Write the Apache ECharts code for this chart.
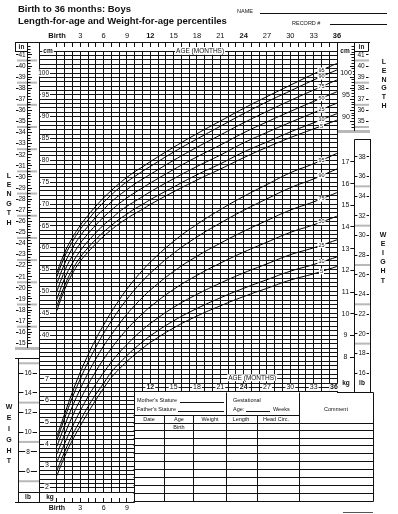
<!DOCTYPE html>
<html>
<head>
<meta charset="utf-8">
<script src="https://cdn.jsdelivr.net/npm/echarts@6/dist/echarts.min.js"></script>
<style>
  html, body { margin: 0; padding: 0; background: #fff; }
  #chart { width: 398px; height: 514px; }
</style>
</head>
<body>
<div id="chart"></div>
<script>
// age in months
const ages = [0, 1, 2, 3, 4, 5, 6, 7, 8, 9, 10, 11, 12, 15, 18, 21, 24, 27, 30, 33, 36]

// length-for-age (cm)
const lenP5  = [45.6, 50.5, 54.1, 56.9, 59.0, 60.9, 62.6, 64.1, 65.5, 66.7, 67.8, 68.8, 69.9, 72.8, 75.5, 78.0, 80.6, 83.0, 85.2, 87.2, 89.2]
const lenP10 = [46.6, 51.4, 55.0, 57.8, 60.0, 61.9, 63.6, 65.1, 66.5, 67.7, 68.9, 69.9, 71.0, 73.9, 76.7, 79.2, 81.9, 84.2, 86.5, 88.6, 90.7]
const lenP25 = [48.2, 53.0, 56.5, 59.3, 61.5, 63.4, 65.2, 66.7, 68.2, 69.5, 70.6, 71.7, 72.8, 75.8, 78.6, 81.2, 84.0, 86.4, 88.7, 90.9, 93.1]
const lenP50 = [50.0, 54.7, 58.2, 61.0, 63.2, 65.2, 67.0, 68.6, 70.1, 71.4, 72.6, 73.7, 74.8, 77.9, 80.8, 83.5, 86.3, 88.8, 91.2, 93.5, 95.7]
const lenP75 = [51.8, 56.4, 59.9, 62.7, 64.9, 67.0, 68.8, 70.5, 72.0, 73.3, 74.6, 75.7, 76.8, 80.0, 83.0, 85.8, 88.6, 91.2, 93.7, 96.1, 98.4]
const lenP90 = [53.4, 58.0, 61.4, 64.2, 66.4, 68.5, 70.4, 72.1, 73.7, 75.1, 76.3, 77.5, 78.6, 81.9, 84.9, 87.8, 90.7, 93.4, 95.9, 98.4, 100.7]
const lenP95 = [54.3, 58.9, 62.3, 65.1, 67.4, 69.5, 71.4, 73.1, 74.7, 76.1, 77.4, 78.5, 79.7, 83.0, 86.1, 89.0, 91.9, 94.6, 97.2, 99.8, 102.2]

// weight-for-age (kg)
const wtP5  = [2.53, 3.42, 4.17, 4.82, 5.44, 6.02, 6.56, 7.06, 7.44, 7.80, 8.11, 8.40, 8.67, 9.34, 9.89, 10.36, 10.79, 11.17, 11.55, 11.84, 12.18]
const wtP10 = [2.77, 3.64, 4.41, 5.07, 5.71, 6.28, 6.79, 7.31, 7.71, 8.07, 8.40, 8.70, 8.98, 9.67, 10.24, 10.73, 11.17, 11.57, 11.96, 12.27, 12.62]
const wtP25 = [3.15, 4.02, 4.80, 5.52, 6.17, 6.75, 7.28, 7.77, 8.20, 8.58, 8.94, 9.25, 9.55, 10.29, 10.89, 11.41, 11.88, 12.30, 12.72, 13.04, 13.41]
const wtP50 = [3.53, 4.44, 5.28, 6.03, 6.72, 7.34, 7.90, 8.40, 8.86, 9.28, 9.66, 10.00, 10.32, 11.12, 11.77, 12.33, 12.84, 13.30, 13.75, 14.10, 14.50]
const wtP75 = [3.88, 4.84, 5.73, 6.53, 7.26, 7.91, 8.51, 9.03, 9.52, 9.98, 10.38, 10.75, 11.09, 11.95, 12.65, 13.25, 13.80, 14.30, 14.78, 15.16, 15.59]
const wtP90 = [4.17, 5.19, 6.15, 6.99, 7.76, 8.46, 9.09, 9.66, 10.19, 10.67, 11.11, 11.50, 11.87, 12.79, 13.54, 14.18, 14.77, 15.30, 15.81, 16.22, 16.68]
const wtP95 = [4.34, 5.39, 6.39, 7.30, 8.10, 8.83, 9.48, 10.08, 10.63, 11.14, 11.59, 12.00, 12.38, 13.34, 14.12, 14.80, 15.41, 15.96, 16.50, 16.92, 17.40]

const pctNames = ['5', '10', '25', '50', '75', '90', '95']

// tick labels
const ageTicks = [0, 3, 6, 9, 12, 15, 18, 21, 24, 27, 30, 33, 36]
const ageBold = [0, 12, 24, 36]
const cmLeft = [40, 45, 50, 55, 60, 65, 70, 75, 80, 85, 90, 95, 100]
const cmRight = [90, 95, 100]
const inLeft = [15, 16, 17, 18, 19, 20, 21, 22, 23, 24, 25, 26, 27, 28, 29, 30, 31, 32, 33, 34, 35, 36, 37, 38, 39, 40, 41]
const inRight = [35, 36, 37, 38, 39, 40, 41]
const kgLeft = [2, 3, 4, 5, 6, 7]
const kgRight = [8, 9, 10, 11, 12, 13, 14, 15, 16, 17]
const lbLeft = [6, 8, 10, 12, 14, 16]
const lbRight = [16, 18, 20, 22, 24, 26, 28, 30, 32, 34, 36, 38]

const FONT = '"Liberation Sans", Arial, sans-serif'
const AGE_MIN = -2.31, AGE_MAX = 36
const CM_MIN = 1.76, CM_MAX = 106.87
const KG_MIN = 1.31, KG_MAX = 22.49
const TABLE_AGE = 10, TABLE_CM = 27, GRID_TOP_CM = 105, GRID_LOW_CM = 4
const LABEL_AGE = 34

const lenSets = [lenP5, lenP10, lenP25, lenP50, lenP75, lenP90, lenP95]
const wtSets = [wtP5, wtP10, wtP25, wtP50, wtP75, wtP90, wtP95]

function valueAt(arr, age) {
  for (let i = 1; i < ages.length; i++) {
    if (ages[i] >= age) {
      const t = (age - ages[i - 1]) / (ages[i] - ages[i - 1])
      return arr[i - 1] + t * (arr[i] - arr[i - 1])
    }
  }
  return arr[arr.length - 1]
}

const snap = v => Math.round(v - 0.5) + 0.5

function mkLine(g, x1, y1, x2, y2, color, w) {
  g.push({ type: 'line', silent: true, shape: { x1, y1, x2, y2 }, style: { stroke: color || '#111', lineWidth: w || 1 } })
}
function mkText(g, x, y, text, opt) {
  opt = opt || {}
  g.push({
    type: 'text', silent: true, x, y,
    style: {
      text: String(text), fill: '#111',
      font: (opt.bold ? 'bold ' : '') + (opt.size || 6) + 'px ' + FONT,
      align: opt.align || 'center', verticalAlign: 'middle',
      backgroundColor: opt.bg ? '#fff' : null, padding: opt.bg ? [0, 1] : 0
    },
    z2: 5
  })
}
function mkRect(g, x, y, w, h, color) {
  g.push({ type: 'rect', silent: true, shape: { x, y, width: w, height: h }, style: { fill: color } })
}

// grid, borders and length scales (cm axis)
function lengthFrame(params, api) {
  const X = v => api.coord([v, 50])[0]
  const Y = v => api.coord([0, v])[1]
  const g = []
  const left = X(AGE_MIN), right = X(AGE_MAX), top = Y(CM_MAX), bottom = Y(CM_MIN)

  // gray bands in the inch columns
  for (let i = 14.5; i <= 41; i += 2) {
    const y = Y(i * 2.54)
    if (y > 345) continue
    mkRect(g, 17, y - 1, 20, 2, '#b8b8b8')
  }
  for (let i = 34.5; i <= 41; i += 2) mkRect(g, 355, Y(i * 2.54) - 1, 14, 2, '#b8b8b8')
  mkRect(g, 15, 347, 24, 3, '#b8b8b8')
  mkRect(g, 337, 130, 33, 3, '#b8b8b8')

  for (let cm = GRID_LOW_CM; cm <= GRID_TOP_CM; cm++) {
    const y = snap(Y(cm))
    mkLine(g, left, y, X(cm >= TABLE_CM ? AGE_MAX : TABLE_AGE), y)
  }
  for (let m = 0; m <= AGE_MAX; m++) {
    const x = snap(X(m))
    const yEnd = m === TABLE_AGE ? bottom : Y(m < TABLE_AGE ? GRID_LOW_CM : TABLE_CM)
    mkLine(g, x, Y(GRID_TOP_CM), x, yEnd)
    mkLine(g, x, top, x, top + 4)
    if (m < TABLE_AGE) mkLine(g, x, bottom, x, bottom - 4)
  }
  mkLine(g, snap(left), top, snap(left), bottom)
  mkLine(g, 15, snap(top), 370, snap(top))
  mkLine(g, 15, snap(bottom), X(TABLE_AGE), snap(bottom))
  mkLine(g, snap(right), top, snap(right), Y(TABLE_CM))

  // left inch column
  mkLine(g, 27.5, top, 27.5, 348)
  mkLine(g, 15.5, top, 15.5, Y(GRID_TOP_CM))
  mkLine(g, 15, snap(Y(GRID_TOP_CM)), 27.5, snap(Y(GRID_TOP_CM)))
  for (let q = 14.75; q <= 41.9; q += 0.25) {
    const y = snap(Y(q * 2.54))
    if (y > 346) continue
    mkLine(g, 27.5, y, q % 1 === 0 ? 32 : 30.5, y)
  }
  inLeft.forEach(v => {
    const y = snap(Y(v * 2.54))
    mkLine(g, 16, y, 18.5, y)
    mkText(g, 22, Y(v * 2.54), v, { size: 6.5 })
  })
  mkText(g, 21.5, 47, 'in', { size: 6.5, bold: true })
  mkText(g, 48, Y(GRID_TOP_CM), 'cm', { size: 6.5, bold: true, bg: true })
  cmLeft.forEach(v => mkText(g, 50, Y(v), v, { size: 6.5, align: 'right', bg: true }))

  // right length column
  mkLine(g, 354.5, top, 354.5, 131)
  mkLine(g, 368.5, top, 368.5, Y(GRID_TOP_CM))
  mkLine(g, 354.5, snap(Y(GRID_TOP_CM)), 368.5, snap(Y(GRID_TOP_CM)))
  for (let q = 34.25; q <= 41.9; q += 0.25) {
    const y = snap(Y(q * 2.54))
    if (y > 129) continue
    mkLine(g, 354.5, y, q % 1 === 0 ? 350 : 351.5, y)
  }
  inRight.forEach(v => {
    const y = snap(Y(v * 2.54))
    mkLine(g, 366, y, 368.5, y)
    mkText(g, 361, Y(v * 2.54), v, { size: 6.5 })
  })
  mkText(g, 361.5, 47, 'in', { size: 6.5, bold: true })
  mkText(g, 345, Y(GRID_TOP_CM), 'cm', { size: 6.5, bold: true, bg: true })
  cmRight.forEach(v => mkText(g, 346, Y(v), v, { size: 7, bg: true }))

  // age labels
  ageTicks.forEach(m => {
    const bold = ageBold.indexOf(m) >= 0
    mkText(g, X(m), 36, m === 0 ? 'Birth' : m, { size: 7.5, bold })
    if (m <= 9) mkText(g, X(m), 508, m === 0 ? 'Birth' : m, { size: 7, bold })
    if (m >= 12) mkText(g, m === 36 ? X(m) - 3 : X(m), Y(28), m, { size: 7, bg: true, bold })
  })
  mkText(g, X(18.4), Y(GRID_TOP_CM), 'AGE (MONTHS)', { size: 6.5, bg: true })
  mkText(g, X(25.1), Y(30.2), 'AGE (MONTHS)', { size: 6.5, bg: true })
  return { type: 'group', children: g }
}

// weight scales (kg axis)
function weightFrame(params, api) {
  const Y = v => api.coord([0, v])[1]
  const g = []
  const lb = 0.45359

  // left lb column
  ;[17, 13, 9, 5].forEach(v => mkRect(g, 19, Y(v * lb) - 1, 20, 2, '#b8b8b8'))
  mkLine(g, 15, 358.5, 39, 358.5)
  mkLine(g, 18.5, 358.5, 18.5, 502)
  mkLine(g, 18.5, 492.5, 39, 492.5)
  lbLeft.forEach(v => {
    const y = snap(Y(v * lb))
    mkLine(g, 19, y, 37, y)
    mkText(g, 28, Y(v * lb), v, { size: 6.5, bg: true })
  })
  kgLeft.forEach(v => mkText(g, 47, Y(v), v, { size: 7, bg: true }))
  mkText(g, 28, 497, 'lb', { size: 6.5, bold: true, bg: true })
  mkText(g, 50, 497, 'kg', { size: 6.5, bold: true, bg: true })

  // right kg / lb column
  ;[35, 31, 27, 23, 19].forEach(v => mkRect(g, 355, Y(v * lb) - 1, 15, 2, '#b8b8b8'))
  mkLine(g, 354.5, 139.5, 371, 139.5)
  mkLine(g, 354.5, 139.5, 354.5, 392)
  mkLine(g, 370.5, 139.5, 370.5, 392)
  lbRight.forEach(v => {
    const y = snap(Y(v * lb))
    mkLine(g, 355, y, 369, y)
    mkText(g, 362, Y(v * lb), v, { size: 6.5, bg: true })
  })
  kgRight.forEach(v => {
    const y = snap(Y(v))
    mkLine(g, 350, y, 354.5, y)
    mkText(g, 345.5, Y(v), v, { size: 7, bg: true })
  })
  mkText(g, 346, 383, 'kg', { size: 6.5, bold: true, bg: true })
  mkText(g, 362, 383, 'lb', { size: 6.5, bold: true, bg: true })
  return { type: 'group', children: g }
}

function pctLabels(sets) {
  return function (params, api) {
    const g = []
    sets.forEach((arr, i) => {
      const p = api.coord([LABEL_AGE, valueAt(arr, LABEL_AGE)])
      mkText(g, p[0], p[1], pctNames[i], { size: 5.5, bg: true })
    })
    return { type: 'group', children: g }
  }
}

// data-entry table below the weight curves
const tbl = { x0: 133.5, x1: 373.5, y0: 392.5, y1: 501.5 }
const tblCols = [164.5, 193.5, 226.5, 257.5]
const tblRows = [430.5, 438.5, 445.5, 453.5, 461.5, 469.5, 477.5, 485.5, 493.5]
const tableGraphics = []
const gl = (x1, y1, x2, y2) => tableGraphics.push({ type: 'line', silent: true, shape: { x1, y1, x2, y2 }, style: { stroke: '#111', lineWidth: 1 } })
const gt = (x, y, text, size, align, bold) => tableGraphics.push({
  type: 'text', silent: true, x, y,
  style: { text, fill: '#111', font: (bold ? 'bold ' : '') + size + 'px ' + FONT, align: align || 'left', verticalAlign: 'middle' }
})
gl(337, tbl.y0, tbl.x1, tbl.y0)
gl(tbl.x1, tbl.y0, tbl.x1, tbl.y1)
gl(tbl.x0, tbl.y1, tbl.x1, tbl.y1)
gl(226.5, tbl.y0, 226.5, 415.5)
gl(299.5, tbl.y0, 299.5, tbl.y1)
gl(tbl.x0, 415.5, 299.5, 415.5)
gl(tbl.x0, 423.5, tbl.x1, 423.5)
tblCols.forEach(x => gl(x, 415.5, x, tbl.y1))
tblRows.forEach(y => gl(tbl.x0, y, tbl.x1, y))
gt(137, 400, "Mother's Stature", 5.5)
gl(180, 402.5, 224, 402.5)
gt(137, 409, "Father's Stature", 5.5)
gl(178, 411.5, 224, 411.5)
gt(233, 400, 'Gestational', 5.5)
gt(233, 409, 'Age:', 5.5)
gl(246, 411.5, 270, 411.5)
gt(273, 409, 'Weeks', 5.5)
gt(336, 409, 'Comment', 5.5, 'center')
gt(149, 419, 'Date', 5.5, 'center')
gt(179, 419, 'Age', 5.5, 'center')
gt(210, 419, 'Weight', 5.5, 'center')
gt(241, 419, 'Length', 5.5, 'center')
gt(276, 419, 'Head Circ.', 5.5, 'center')
gt(179, 427, 'Birth', 5.5, 'center')

const chart = echarts.init(document.getElementById('chart'))

const curveSeries = []
lenSets.forEach((arr, i) => curveSeries.push({
  name: 'Length ' + pctNames[i], type: 'line', xAxisIndex: 0, yAxisIndex: 0,
  data: ages.map((a, j) => [a, arr[j]]), smooth: 0.5,
  symbol: 'none', silent: true, z: 3, lineStyle: { color: '#000', width: 1 }
}))
wtSets.forEach((arr, i) => curveSeries.push({
  name: 'Weight ' + pctNames[i], type: 'line', xAxisIndex: 0, yAxisIndex: 1,
  data: ages.map((a, j) => [a, arr[j]]), smooth: 0.5,
  symbol: 'none', silent: true, z: 3, lineStyle: { color: '#000', width: 1 }
}))

chart.setOption({
  animation: false,
  backgroundColor: '#fff',
  grid: { left: 39, top: 43, width: 298, height: 459 },
  xAxis: { type: 'value', min: AGE_MIN, max: AGE_MAX, show: false },
  yAxis: [
    { type: 'value', min: CM_MIN, max: CM_MAX, show: false },
    { type: 'value', min: KG_MIN, max: KG_MAX, show: false }
  ],
  graphic: [
    { type: 'text', left: 18, top: 4, style: { text: 'Birth to 36 months: Boys', font: 'bold 9.5px ' + FONT, fill: '#111' } },
    { type: 'text', left: 18, top: 16, style: { text: 'Length-for-age and Weight-for-age percentiles', font: 'bold 9.5px ' + FONT, fill: '#111' } },
    { type: 'text', left: 237, top: 8, style: { text: 'NAME', font: '5.5px ' + FONT, fill: '#111' } },
    { type: 'line', shape: { x1: 260, y1: 13.5, x2: 387, y2: 13.5 }, style: { stroke: '#111', lineWidth: 1 } },
    { type: 'text', left: 292, top: 20, style: { text: 'RECORD #', font: '5.5px ' + FONT, fill: '#111' } },
    { type: 'line', shape: { x1: 330, y1: 24.5, x2: 387, y2: 24.5 }, style: { stroke: '#111', lineWidth: 1 } },
    { type: 'text', x: 9, y: 171, style: { text: 'L\nE\nN\nG\nT\nH', font: 'bold 7px ' + FONT, lineHeight: 9.4, align: 'center', fill: '#111' } },
    { type: 'text', x: 9, y: 402, style: { text: 'W\nE\nI\nG\nH\nT', font: 'bold 7px ' + FONT, lineHeight: 10.8, align: 'center', fill: '#111' } },
    { type: 'text', x: 384, y: 58, style: { text: 'L\nE\nN\nG\nT\nH', font: 'bold 7px ' + FONT, lineHeight: 8.7, align: 'center', fill: '#111' } },
    { type: 'text', x: 383, y: 230, style: { text: 'W\nE\nI\nG\nH\nT', font: 'bold 7px ' + FONT, lineHeight: 9.2, align: 'center', fill: '#111' } },
    { type: 'line', shape: { x1: 343, y1: 512.5, x2: 373, y2: 512.5 }, style: { stroke: '#555', lineWidth: 1 } }
  ].concat(tableGraphics),
  series: [
    { type: 'custom', name: 'frame', yAxisIndex: 0, data: [[0, 50]], renderItem: lengthFrame, silent: true, z: 1, clip: false },
    { type: 'custom', name: 'weightFrame', yAxisIndex: 1, data: [[0, 10]], renderItem: weightFrame, silent: true, z: 2, clip: false }
  ].concat(curveSeries).concat([
    { type: 'custom', name: 'lenLabels', yAxisIndex: 0, data: [[0, 50]], renderItem: pctLabels(lenSets), silent: true, z: 6, clip: false },
    { type: 'custom', name: 'wtLabels', yAxisIndex: 1, data: [[0, 10]], renderItem: pctLabels(wtSets), silent: true, z: 6, clip: false }
  ])
})
</script>
</body>
</html>
